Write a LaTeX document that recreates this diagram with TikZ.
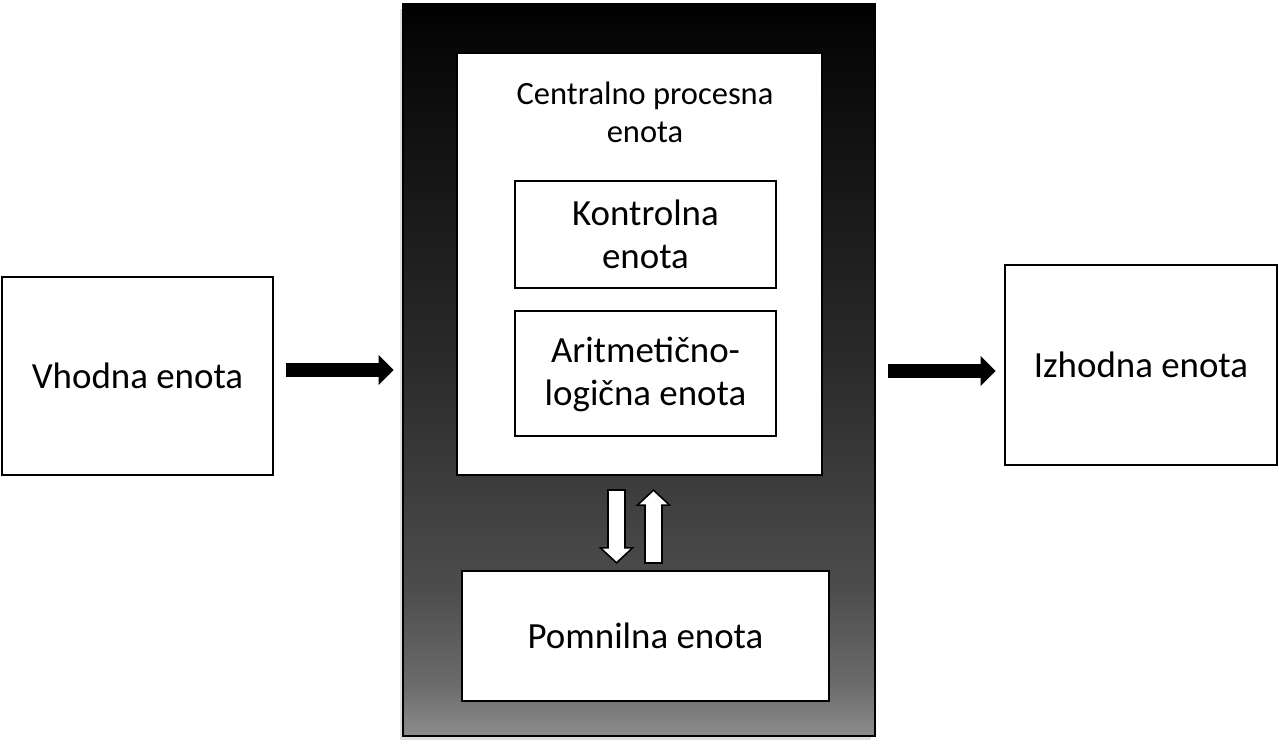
\documentclass[tikz,border=0pt]{standalone}
\usepackage{fontspec}
\setmainfont{Carlito}
\usepackage{tikz}
\usetikzlibrary{arrows.meta,positioning,calc,shadows}

\pgfdeclareverticalshading{cpushade}{100bp}{rgb(0bp)=(0.55,0.55,0.55); rgb(25bp)=(0.55,0.55,0.55); rgb(28.5bp)=(0.42,0.42,0.42); rgb(35bp)=(0.30,0.30,0.30); rgb(50bp)=(0.17,0.17,0.17); rgb(72bp)=(0.03,0.03,0.03); rgb(75bp)=(0,0,0); rgb(100bp)=(0,0,0)}

\tikzset{
    unitbox/.style={draw=black, line width=0.04cm, fill=white, align=center, inner sep=0pt},
    bigtext/.style={font=\fontsize{21}{24.5}\selectfont},
    smalltext/.style={font=\fontsize{18.5}{21.5}\selectfont},
    bigarrow/.style={draw=black, line width=0.28cm, -{Triangle[length=0.3cm, width=0.6cm, line width=0pt]}, shorten <=0.24cm, shorten >=0.17cm},
    hollowarrow/.style 2 args={draw=white, line width=0.3cm, -{Triangle[length=0.26cm, width=0.56cm, line width=0pt]},
        preaction={draw=black, line width=0.38cm, -{Triangle[length=0.34cm, width=0.72cm, line width=0pt]}, shorten <=#1, shorten >=#2}},
}

\begin{document}
\begin{tikzpicture}[x=0.02cm, y=-0.02cm]
    \useasboundingbox (0,0) rectangle (1279,748);

    % input and output units
    \node[unitbox, bigtext, minimum width=5.42cm, minimum height=3.96cm] (vhod) at (137.5,376) {Vhodna enota};
    \node[unitbox, bigtext, minimum width=5.44cm, minimum height=4.00cm] (izhod) at (1141,365) {Izhodna enota};

    % computer
    \node[draw=black, line width=0.04cm, shading=cpushade, minimum width=9.44cm, minimum height=14.64cm, inner sep=0pt,
        drop shadow={shadow xshift=-0.07cm, shadow yshift=-0.09cm, opacity=0.25}] (racunalnik) at (639,370) {};

    % CPU
    \node[unitbox, minimum width=7.30cm, minimum height=8.44cm] (cpe) at (639.5,264) {};
    \node[smalltext, align=center] (cpelabel) at (645,112) {Centralno procesna\\enota};
    \node[unitbox, bigtext, minimum width=5.22cm, minimum height=2.14cm] (kontrolna) at (645.5,234.5) {Kontrolna\\enota};
    \node[unitbox, bigtext, minimum width=5.22cm, minimum height=2.50cm, text depth=0.1cm] (alu) at (645.5,373.5) {Aritmetično-\\logična enota};

    % memory
    \node[unitbox, bigtext, minimum width=7.34cm, minimum height=2.60cm] (pomnilna) at (645.5,636) {Pomnilna enota};

    % data flow
    \draw[bigarrow] ([yshift=0.12cm]vhod.east) -- ([yshift=0.12cm]vhod.east -| racunalnik.west);
    \draw[bigarrow] ([yshift=-0.12cm]izhod.west -| racunalnik.east) -- ([yshift=-0.12cm]izhod.west);

    \draw[hollowarrow={0.26cm}{0.12cm}, shorten <=0.30cm, shorten >=0.17cm]
        ([xshift=-0.46cm]cpe.south) -- ([xshift=-0.46cm]cpe.south |- pomnilna.north);
    \draw[hollowarrow={0.12cm}{0.26cm}, shorten <=0.16cm, shorten >=0.31cm]
        ([xshift=0.28cm]cpe.south |- pomnilna.north) -- ([xshift=0.28cm]cpe.south);
\end{tikzpicture}
\end{document}
